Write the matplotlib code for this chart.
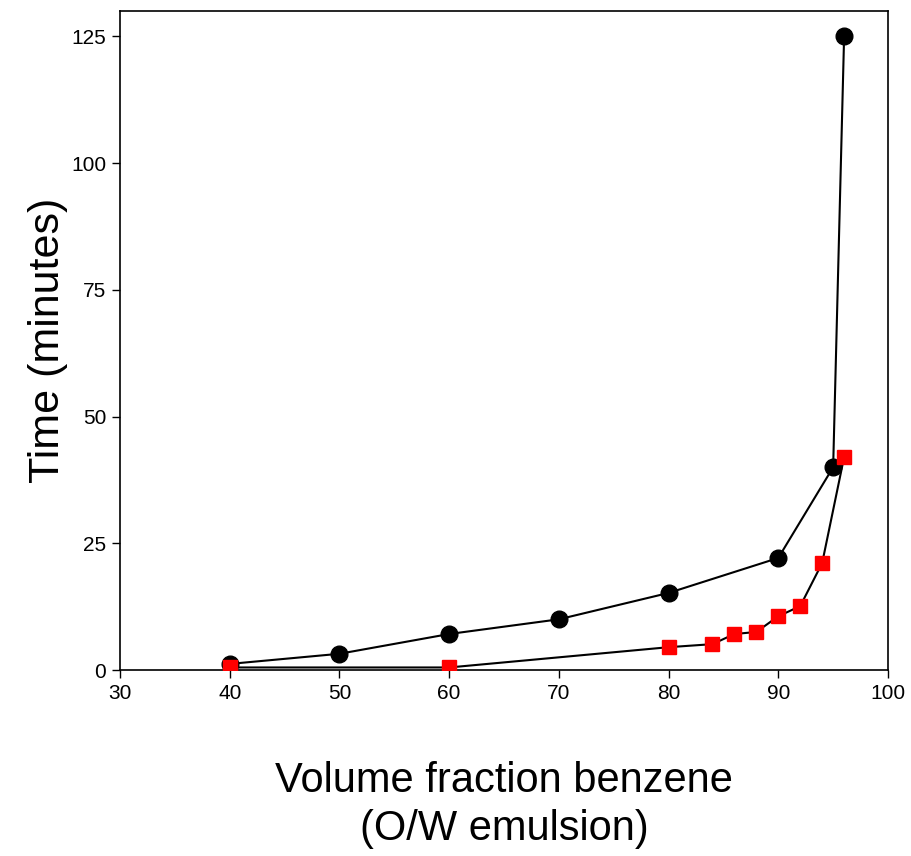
import matplotlib
matplotlib.use('Agg')
from matplotlib import pyplot as plt

plt.rcParams['font.family'] = ['Liberation Sans', 'DejaVu Sans']

# O/W emulsion, black circles
x_circ = [40, 50, 60, 70, 80, 90, 95, 96]
y_circ = [1.2, 3.2, 7.1, 10, 15.2, 22.1, 40, 125]

# red squares
x_sq = [40, 60, 80, 84, 86, 88, 90, 92, 94, 96]
y_sq = [0.5, 0.5, 4.5, 5.1, 7.1, 7.5, 10.6, 12.6, 21.1, 42]

xticks = [30, 40, 50, 60, 70, 80, 90, 100]
yticks = [0, 25, 50, 75, 100, 125]

fig = plt.figure(figsize=(9.12, 8.56), dpi=100)
ax = fig.add_axes([120 / 912, 1 - 670 / 856, 768 / 912, 659 / 856])

ax.plot(x_circ, y_circ, color='black', linewidth=1.5, marker='o', markersize=12,
        markerfacecolor='black', markeredgecolor='black', zorder=3)
ax.plot(x_sq, y_sq, color='black', linewidth=1.5, marker='s', markersize=10,
        markerfacecolor='red', markeredgecolor='red', zorder=4)

ax.set_xlim(30, 100)
ax.set_ylim(0, 130)
ax.set_xticks(xticks)
ax.set_yticks(yticks)
ax.tick_params(direction='out', length=6, width=1, labelsize=15, pad=4)
for s in ax.spines.values():
    s.set_linewidth(1.2)

ax.set_ylabel('Time (minutes)', fontsize=31, labelpad=2)
ax.set_xlabel('Volume fraction benzene\n(O/W emulsion)', fontsize=30, labelpad=42,
              linespacing=1.25)

fig.savefig('out.png', dpi=100)
